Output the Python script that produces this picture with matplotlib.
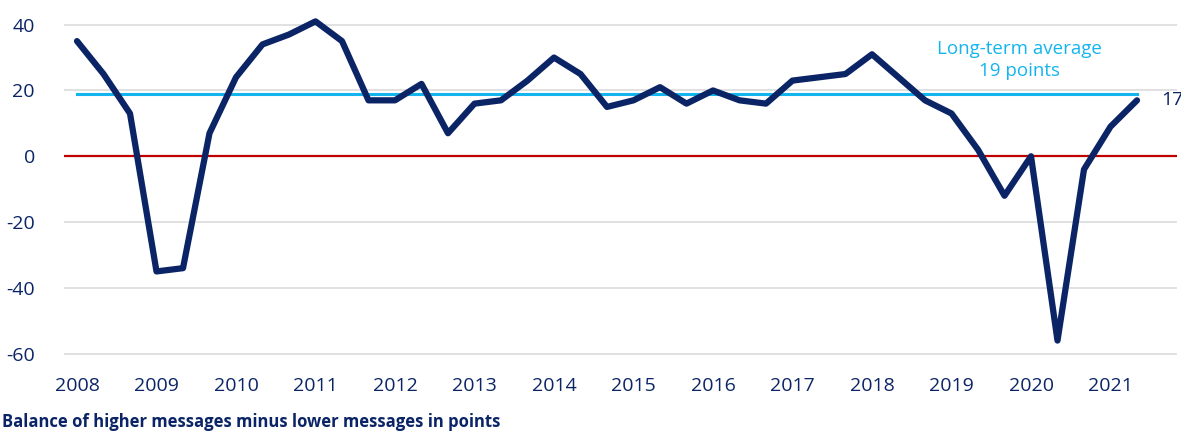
import numpy as np
import matplotlib
matplotlib.use("Agg")
import matplotlib.pyplot as plt

plt.rcParams["font.family"] = ["Open Sans", "DejaVu Sans"]
plt.rcParams["axes.unicode_minus"] = False

# survey results, three per year, 2008 to spring 2021
balance = [35, 25, 13, -35, -34, 7, 24, 34, 37, 41, 35, 17, 17, 22, 7, 16, 17,
           23, 30, 25, 15, 17, 21, 16, 20, 17, 16, 23, 24, 25, 31, 24, 17, 13,
           2, -12, 0, -56, -4, 9, 17]
first_year = 2008
year_ticks = list(range(2008, 2022))
y_ticks = [-60, -40, -20, 0, 20, 40]
long_term_avg = 19

NAVY = "#0a2466"
LIGHT_BLUE = "#14b4ee"
RED = "#c00000"
GRID = "#dcdcdc"

x = first_year + np.arange(len(balance)) / 3

fig = plt.figure(figsize=(11.81, 4.32), dpi=100)
ax = fig.add_axes([64 / 1181, 0.166, 1113 / 1181, 0.7998])

for t in y_ticks:
    if t != 0:
        ax.axhline(t, color=GRID, lw=1.2, zorder=1)
ax.axhline(0, color=RED, lw=1.6, zorder=2)
ax.plot([x[0], x[-1]], [long_term_avg, long_term_avg], color=LIGHT_BLUE, lw=2.2, zorder=3)
ax.plot(x, balance, color=NAVY, lw=4.5, solid_joinstyle="round", solid_capstyle="round", zorder=4)

ax.set_xlim(2008 - 13 / 79.5, 2008 + 1100 / 79.5)
ax.set_ylim(-62, 43)
ax.set_xticks(year_ticks)
ax.set_xticklabels([str(y) for y in year_ticks])
ax.set_yticks(y_ticks)
ax.tick_params(length=0, labelsize=14, colors=NAVY)
ax.tick_params(axis="y", pad=21)
ax.tick_params(axis="x", pad=12)
for s in ax.spines.values():
    s.set_visible(False)

ax.text(2019.86, 29.3, "Long-term average\n19 points", color=LIGHT_BLUE,
        fontsize=13.5, ha="center", va="center", linespacing=1.3)
ax.text(x[-1] + 0.3, balance[-1], str(balance[-1]), color=NAVY, fontsize=14,
        ha="left", va="center")

fig.text(2 / 1181, 1 - 422 / 432, "Balance of higher messages minus lower messages in points",
         color=NAVY, fontsize=12, fontweight="bold", ha="left", va="center")

fig.savefig("out.png", dpi=100)
